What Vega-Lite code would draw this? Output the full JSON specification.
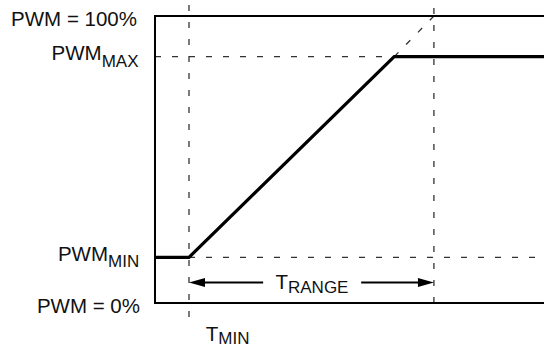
{
  "$schema": "https://vega.github.io/schema/vega-lite/v6.json",
  "width": 389,
  "height": 287,
  "autosize": "none",
  "padding": {"left": 155, "top": 16, "right": 0, "bottom": 45},
  "background": "white",
  "config": {"view": {"stroke": null}},
  "datasets": {
    "frame": [
      {"x": 0, "y": 0, "x2": 0, "y2": 100},
      {"x": 0, "y": 100, "x2": 100, "y2": 100},
      {"x": 0, "y": 0, "x2": 100, "y2": 0}
    ],
    "guides": [
      {"x": 8.74, "y": -4.9, "x2": 8.74, "y2": 105.6},
      {"x": 71.7, "y": 0, "x2": 71.7, "y2": 105.6},
      {"x": 0, "y": 85.82, "x2": 61.5, "y2": 85.82},
      {"x": 8.74, "y": 15.92, "x2": 100, "y2": 15.92},
      {"x": 61.5, "y": 85.82, "x2": 71.7, "y2": 100}
    ],
    "curve": [
      {"t": 0, "pwm": 15.92},
      {"t": 8.74, "pwm": 15.92},
      {"t": 61.5, "pwm": 85.82},
      {"t": 100, "pwm": 85.82}
    ],
    "shafts": [
      {"x": 10, "x2": 27.8, "y": 7.14},
      {"x": 53.0, "x2": 70, "y": 7.14}
    ],
    "heads": [
      {"x": 8.74, "y": 7.14, "dir": "left"},
      {"x": 71.7, "y": 7.14, "dir": "right"}
    ],
    "labels": [
      {"main": "PWM = 100%", "sub": "", "x": -4.63, "y": 96.52, "ysub": 96.52},
      {"main": "PWM", "sub": "MAX", "x": -13.7, "y": 84.84, "ysub": 82.33},
      {"main": "PWM", "sub": "MIN", "x": -12.08, "y": 14.74, "ysub": 12.44},
      {"main": "PWM = 0%", "sub": "", "x": -3.86, "y": -3.38, "ysub": -3.38},
      {"main": "T", "sub": "MIN", "x": 16.27, "y": -13.24, "ysub": -14.39},
      {"main": "T", "sub": "RANGE", "x": 34.19, "y": 4.88, "ysub": 3.48}
    ]
  },
  "layer": [
    {
      "data": {"name": "guides"},
      "mark": {"type": "rule", "color": "#333", "strokeWidth": 1.3, "strokeDash": [6, 11], "clip": false},
      "encoding": {
        "x": {"field": "x", "type": "quantitative", "scale": {"domain": [0, 100], "nice": false, "zero": false}, "axis": null},
        "y": {"field": "y", "type": "quantitative", "scale": {"domain": [0, 100], "nice": false, "zero": false}, "axis": null},
        "x2": {"field": "x2"},
        "y2": {"field": "y2"}
      }
    },
    {
      "data": {"name": "frame"},
      "mark": {"type": "rule", "color": "#000", "strokeWidth": 2, "strokeCap": "square", "clip": false},
      "encoding": {
        "x": {"field": "x", "type": "quantitative", "axis": null},
        "y": {"field": "y", "type": "quantitative", "axis": null},
        "x2": {"field": "x2"},
        "y2": {"field": "y2"}
      }
    },
    {
      "data": {"name": "curve"},
      "mark": {"type": "line", "color": "#000", "strokeWidth": 3.2, "strokeJoin": "miter", "clip": false},
      "encoding": {
        "x": {"field": "t", "type": "quantitative", "axis": null},
        "y": {"field": "pwm", "type": "quantitative", "axis": null}
      }
    },
    {
      "data": {"name": "shafts"},
      "mark": {"type": "rule", "color": "#000", "strokeWidth": 2, "clip": false},
      "encoding": {
        "x": {"field": "x", "type": "quantitative", "axis": null},
        "x2": {"field": "x2"},
        "y": {"field": "y", "type": "quantitative", "axis": null}
      }
    },
    {
      "data": {"name": "heads"},
      "mark": {"type": "point", "filled": true, "color": "#000", "opacity": 1, "size": 256, "strokeWidth": 0, "clip": false},
      "encoding": {
        "x": {"field": "x", "type": "quantitative", "axis": null},
        "y": {"field": "y", "type": "quantitative", "axis": null},
        "shape": {"field": "dir", "type": "nominal", "legend": null,
          "scale": {"domain": ["left", "right"], "range": ["M0,0L2,-0.55L2,0.55Z", "M0,0L-2,-0.55L-2,0.55Z"]}}
      }
    },
    {
      "data": {"name": "labels"},
      "mark": {"type": "text", "align": "right", "baseline": "alphabetic", "font": "Liberation Sans", "fontSize": 20.5, "color": "#111", "clip": false},
      "encoding": {
        "x": {"field": "x", "type": "quantitative", "axis": null},
        "y": {"field": "y", "type": "quantitative", "axis": null},
        "text": {"field": "main"}
      }
    },
    {
      "data": {"name": "labels"},
      "mark": {"type": "text", "align": "left", "baseline": "alphabetic", "font": "Liberation Sans", "fontSize": 17, "color": "#111", "clip": false},
      "encoding": {
        "x": {"field": "x", "type": "quantitative", "axis": null},
        "y": {"field": "ysub", "type": "quantitative", "axis": null},
        "text": {"field": "sub"}
      }
    }
  ]
}
